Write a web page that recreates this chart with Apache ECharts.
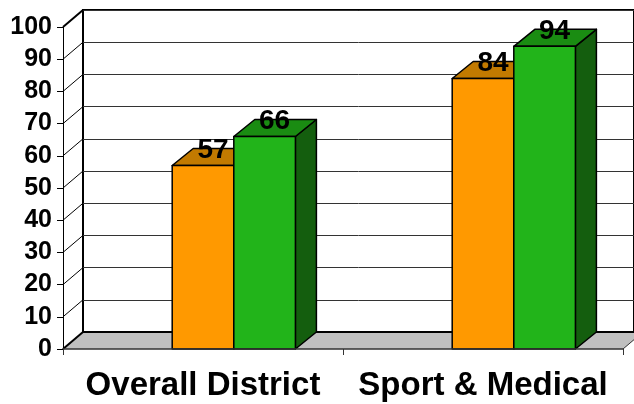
<!DOCTYPE html>
<html>
<head>
<meta charset="utf-8">
<script src="https://cdn.jsdelivr.net/npm/echarts@6/dist/echarts.min.js"></script>
<style>
html, body { margin: 0; padding: 0; background: #fff; }
#chart { width: 634px; height: 404px; }
</style>
</head>
<body>
<div id="chart"></div>
<script>
var categories = ['Overall District', 'Sport & Medical']
var orangeValues = [57, 84]
var greenValues = [66, 94]
var yTicks = [0, 10, 20, 30, 40, 50, 60, 70, 80, 90, 100]

// depth of the 3d box, in pixels
var DX = 20, DY = -17
var FONT = '"Liberation Sans", Arial, sans-serif'

function barRenderer(front, top, side, shift) {
    return function (params, api) {
        var cat = api.value(0), val = api.value(1)
        var band = api.size([1, 0])[0]
        var base = api.coord([cat, 0])
        var tip = api.coord([cat, val])
        var w = band * 0.22
        var x0 = base[0] + band * shift, x1 = x0 + w
        var y0 = base[1], y1 = tip[1]
        var line = { stroke: '#000', lineWidth: 1.5, lineJoin: 'round' }
        return {
            type: 'group',
            children: [
                { type: 'polygon', shape: { points: [[x1, y1], [x1 + DX + 1, y1 + DY], [x1 + DX + 1, y0 + DY], [x1, y0]] },
                  style: Object.assign({ fill: side }, line) },
                { type: 'polygon', shape: { points: [[x0, y1], [x1, y1], [x1 + DX + 1, y1 + DY], [x0 + DX + 1, y1 + DY]] },
                  style: Object.assign({ fill: top }, line) },
                { type: 'rect', shape: { x: x0, y: y1, width: w, height: y0 - y1 },
                  style: Object.assign({ fill: front }, line) },
                { type: 'text', z2: 10,
                  style: { x: x0 + w / 2 + DX / 2, y: y1 + DY / 2 - 7, text: String(val),
                           fill: '#000', font: 'bold 28px ' + FONT, align: 'center', verticalAlign: 'middle' } }
            ]
        }
    }
}

var echart = echarts.init(document.getElementById('chart'))

var option = {
    backgroundColor: '#fff',
    animation: false,
    grid: [
        { left: 63, right: 11, top: 27, bottom: 55 },
        { left: 83, right: -30, top: 10, bottom: 72, show: true, borderColor: '#000', borderWidth: 2, backgroundColor: '#fff' }
    ],
    xAxis: [
        {
            type: 'category', gridIndex: 0, data: categories, z: 3,
            axisLine: { lineStyle: { color: '#333', width: 1.5 } },
            axisTick: { show: true, length: 6, interval: 0, lineStyle: { color: '#333' } },
            axisLabel: { color: '#000', fontFamily: FONT, fontWeight: 'bold', fontSize: 33, margin: 20, interval: 0 }
        },
        {
            type: 'category', gridIndex: 1, data: categories,
            axisLine: { show: false }, axisTick: { show: false }, axisLabel: { show: false }
        }
    ],
    yAxis: [
        {
            type: 'value', gridIndex: 0, min: 0, max: 100, interval: 10, z: 3,
            axisLine: { show: true, lineStyle: { color: '#000', width: 1 } },
            axisTick: { show: true, length: 6, lineStyle: { color: '#000' } },
            splitLine: { show: false },
            axisLabel: { color: '#000', fontFamily: FONT, fontWeight: 'bold', fontSize: 25, margin: 11 }
        },
        {
            type: 'value', gridIndex: 1, min: 0, max: 100, interval: 10,
            axisLine: { show: false }, axisTick: { show: false }, axisLabel: { show: false },
            splitLine: { show: true, lineStyle: { color: '#333', width: 1 } }
        }
    ],
    series: [
        {
            // floor
            type: 'custom', xAxisIndex: 0, yAxisIndex: 0, silent: true,
            data: [0],
            renderItem: function (params, api) {
                var cs = params.coordSys
                var yb = api.coord([0, 0])[1]
                var xl = cs.x, xr = cs.x + cs.width
                return {
                    type: 'group',
                    children: [
                        { type: 'polygon', shape: { points: [[xl, yb], [xr, yb], [xr + DX, yb + DY], [xl + DX, yb + DY]] },
                          style: { fill: '#c0c0c0', stroke: null } },
                        { type: 'line', shape: { x1: xl + DX, y1: yb + DY, x2: xr + DX + 20, y2: yb + DY },
                          style: { stroke: '#000', lineWidth: 2 } },
                        { type: 'line', shape: { x1: xr, y1: yb, x2: xr + DX, y2: yb + DY },
                          style: { stroke: '#333', lineWidth: 1 } }
                    ]
                }
            }
        },
        {
            // side wall lines
            type: 'custom', xAxisIndex: 0, yAxisIndex: 0, silent: true,
            data: yTicks.map(function (v) { return [0, v] }),
            renderItem: function (params, api) {
                var x = params.coordSys.x
                var y = api.coord([0, api.value(1)])[1]
                var edge = api.value(1) === 100 || api.value(1) === 0
                return { type: 'line', shape: { x1: x, y1: y, x2: x + DX, y2: y + DY },
                         style: { stroke: '#000', lineWidth: edge ? 2 : 1 } }
            }
        },
        {
            name: 'orange', type: 'custom', xAxisIndex: 0, yAxisIndex: 0,
            data: orangeValues.map(function (v, i) { return [i, v] }),
            renderItem: barRenderer('#ff9900', '#c27a00', '#a06000', -0.11)
        },
        {
            name: 'green', type: 'custom', xAxisIndex: 0, yAxisIndex: 0,
            data: greenValues.map(function (v, i) { return [i, v] }),
            renderItem: barRenderer('#22b41a', '#1a8c12', '#145e0e', 0.11)
        }
    ]
}

echart.setOption(option)
</script>
</body>
</html>
